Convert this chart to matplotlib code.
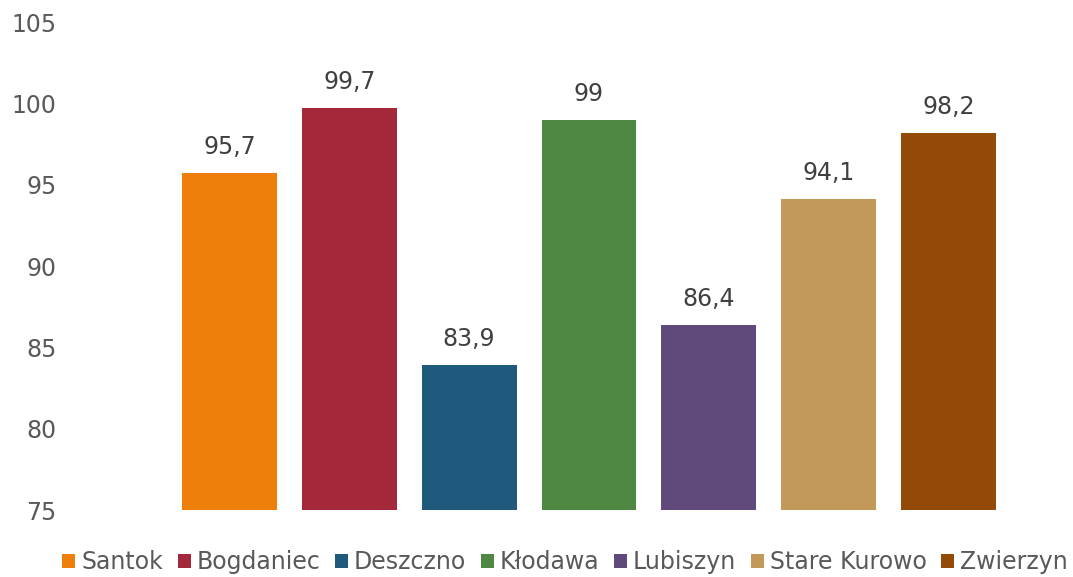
import matplotlib.pyplot as plt
from matplotlib.patches import Patch

gminy = ['Santok', 'Bogdaniec', 'Deszczno', 'Kłodawa', 'Lubiszyn', 'Stare Kurowo', 'Zwierzyn']
wartosci = [95.7, 99.7, 83.9, 99.0, 86.4, 94.1, 98.2]
kolory = ['#EF7F0B', '#A2283A', '#1F5A7D', '#4E8843', '#604A7B', '#C3985B', '#924A06']
yticks = [75, 80, 85, 90, 95, 100, 105]

plt.rcParams['font.family'] = ['DejaVu Sans']

fig = plt.figure(figsize=(10.73, 5.77), dpi=100)
ax = fig.add_axes([62 / 1073, 1 - 510 / 577, 1000 / 1073, (510 - 22) / 577])

x = range(len(gminy))
bars = ax.bar(x, [v - 75 for v in wartosci], bottom=75, width=95 / 120, color=kolory)

for xi, v in zip(x, wartosci):
    etykieta = f'{v:g}'.replace('.', ',')
    ax.annotate(etykieta, (xi, v), xytext=(0, 10), textcoords='offset points',
                ha='center', va='bottom', fontsize=17, color='#404040')

ax.set_ylim(75, 105)
ax.set_yticks(yticks)
ax.set_xlim(-(229.5 - 62) / 120, 6 + (1062 - 948.5) / 120)
ax.set_xticks([])
ax.tick_params(axis='y', length=0, labelsize=17, labelcolor='#595959', pad=4)
for s in ax.spines.values():
    s.set_visible(False)

uchwyty = [Patch(facecolor=c) for c in kolory]
fig.legend(uchwyty, gminy, loc='center', bbox_to_anchor=(565 / 1073, 1 - 562 / 577),
           ncol=7, frameon=False, fontsize=17, labelcolor='#595959',
           handlelength=0.55, handleheight=0.55, handletextpad=0.25, columnspacing=0.62,
           borderaxespad=0)

fig.savefig('out.png', dpi=100)
